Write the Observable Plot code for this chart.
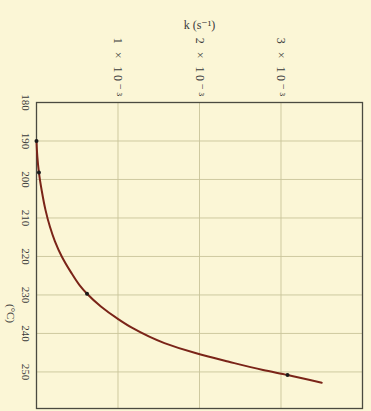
<!DOCTYPE html>
<html>
<head>
<meta charset="utf-8">
<script src="https://cdn.jsdelivr.net/npm/d3@7"></script>
<script src="https://cdn.jsdelivr.net/npm/@observablehq/plot@0.6"></script>
<style>
  html, body { margin: 0; padding: 0; background: #fbf6d6; }
  svg { display: block; }
  g[aria-label="x-axis tick label"] text { letter-spacing: 2.5px; }
</style>
</head>
<body>
<div id="chart"></div>
<script>
// Curve: temperature (°C) and rate constant k (s⁻¹)
const curveT = [190, 194, 198.2, 203, 207.9, 212.3, 216, 220, 224, 227.5, 229.7, 233.0, 236.1, 238.5, 242.5, 245.1, 247.3, 249.5, 250.8, 252.8];
const curveK = [0, 0.01e-3, 0.03e-3, 0.065e-3, 0.11e-3, 0.165e-3, 0.225e-3, 0.31e-3, 0.42e-3, 0.53e-3, 0.62e-3, 0.79e-3, 0.99e-3, 1.17e-3, 1.57e-3, 1.95e-3, 2.35e-3, 2.78e-3, 3.08e-3, 3.5e-3];
// Marked data points
const pointT = [190, 198.2, 229.7, 250.8];
const pointK = [0, 0.03e-3, 0.62e-3, 3.08e-3];
// Ticks
const xTicks = [1e-3, 2e-3, 3e-3];
const xTickLabels = ["1 × 10⁻³", "2 × 10⁻³", "3 × 10⁻³"];
const yTicks = [180, 190, 200, 210, 220, 230, 240, 250];
const xLabel = "k (s⁻¹)";
const yLabel = "(°C)";

const curve = curveT.map((t, i) => ({T: t, k: curveK[i]}));
const points = pointT.map((t, i) => ({T: t, k: pointK[i]}));
const xLabelMap = new Map(xTicks.map((d, i) => [d, xTickLabels[i]]));

const chart = Plot.plot({
  width: 371,
  height: 411,
  marginLeft: 36,
  marginRight: 9,
  marginTop: 102,
  marginBottom: 3,
  style: {background: "#fbf6d6", fontFamily: "'Liberation Serif', 'DejaVu Serif', serif", fontSize: "11px", color: "#3a3a3a"},
  x: {domain: [0, 4e-3]},
  y: {domain: [180, 259.5], reverse: true},
  marks: [
    Plot.gridX(xTicks, {stroke: "#c9c49a", strokeOpacity: 0.9}),
    Plot.gridY(yTicks.slice(1), {stroke: "#c9c49a", strokeOpacity: 0.9}),
    Plot.axisX(xTicks, {
      anchor: "top", tickSize: 0, tickPadding: 4, tickRotate: 90, fontSize: 12,
      tickFormat: d => xLabelMap.get(d),
      label: xLabel, labelArrow: "none", labelAnchor: "center", labelOffset: 82
    }),
    Plot.axisY(yTicks, {
      anchor: "left", tickSize: 0, tickPadding: 11, tickRotate: 90,
      textAnchor: "middle", lineAnchor: "middle", label: null
    }),
    Plot.text([yLabel], {frameAnchor: "left", dx: -26, dy: 58, rotate: 90, textAnchor: "middle", text: d => d, fontSize: 11, fill: "#3a3a3a"}),
    Plot.frame({stroke: "#4a4a40", strokeWidth: 1.3}),
    Plot.line(curve, {x: "k", y: "T", stroke: "#7a2418", strokeWidth: 2, curve: "monotone-y"}),
    Plot.dot(points, {x: "k", y: "T", r: 2, fill: "#1a1a1a"})
  ]
});
document.getElementById("chart").append(chart);
</script>
</body>
</html>
